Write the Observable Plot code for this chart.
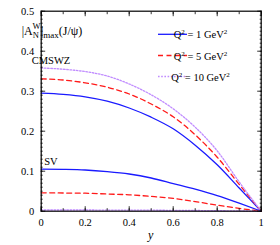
<!DOCTYPE html>
<html>
<head>
<meta charset="utf-8">
<script src="https://cdn.jsdelivr.net/npm/d3@7"></script>
<script src="https://cdn.jsdelivr.net/npm/@observablehq/plot@0.6"></script>
<style>
html,body{margin:0;padding:0;background:#fff;}
svg{display:block;}
</style>
</head>
<body>
<div id="chart"></div>
<script>
const yVals = [0, 0.1, 0.2, 0.3, 0.4, 0.5, 0.6, 0.7, 0.8, 0.9, 1.0];
const cmswzQ1  = [0.295, 0.292, 0.286, 0.275, 0.258, 0.235, 0.206, 0.165, 0.116, 0.058, 0];
const cmswzQ5  = [0.331, 0.328, 0.321, 0.310, 0.293, 0.268, 0.236, 0.191, 0.135, 0.067, 0];
const cmswzQ10 = [0.358, 0.355, 0.349, 0.338, 0.318, 0.291, 0.256, 0.210, 0.151, 0.073, 0];
const svQ1  = [0.105, 0.1045, 0.103, 0.099, 0.093, 0.083, 0.069, 0.055, 0.039, 0.020, 0];
const svQ5  = [0.046, 0.0455, 0.045, 0.043, 0.041, 0.037, 0.032, 0.024, 0.015, 0.007, 0];
const svQ10 = [0.003, 0.003, 0.003, 0.0028, 0.0027, 0.0025, 0.0022, 0.0018, 0.0013, 0.0007, 0];
const xTicks = [0, 0.2, 0.4, 0.6, 0.8, 1];
const yTicks = [0, 0.1, 0.2, 0.3, 0.4, 0.5];
const seriesNames = ["Q1", "Q5", "Q10"];
const legendLabels = ["1", "5", "10"];

const colors = {Q1: "#1a1aff", Q5: "#ff1a1a", Q10: "#c08cff"};
const dashes = {Q1: null, Q5: "5,3.5", Q10: "1.6,1.6"};

const rows = [];
const add = (model, q, arr) => arr.forEach((v, i) => rows.push({model, q, y: yVals[i], v}));
add("CMSWZ", "Q1", cmswzQ1); add("CMSWZ", "Q5", cmswzQ5); add("CMSWZ", "Q10", cmswzQ10);
add("SV", "Q1", svQ1); add("SV", "Q5", svQ5); add("SV", "Q10", svQ10);

const font = "'Liberation Serif', 'Times New Roman', serif";
const minorY = d3.range(0, 0.5001, 0.01).map(d => +d.toFixed(2));
const minorX = d3.range(0, 1.0001, 0.1).map(d => +d.toFixed(1));

const lineMarks = [];
for (const model of ["CMSWZ", "SV"]) {
  for (const q of seriesNames) {
    lineMarks.push(Plot.line(rows.filter(r => r.model === model && r.q === q), {
      x: "y", y: "v", stroke: colors[q], strokeWidth: 1.3,
      strokeDasharray: dashes[q], curve: "monotone-x"
    }));
  }
}

const ax = {label: null, strokeWidth: 0.8};
const svg = Plot.plot({
  width: 280, height: 245,
  marginLeft: 40.7, marginRight: 19.3, marginTop: 10.7, marginBottom: 34.3,
  style: {fontFamily: font, fontSize: "10px", background: "#fff", color: "#000"},
  x: {domain: [0, 1], label: null},
  y: {domain: [0, 0.5], label: null},
  marks: [
    ...lineMarks,
    Plot.axisY(minorY, {...ax, anchor: "left", tickSize: -2, text: null}),
    Plot.axisY(minorY, {...ax, anchor: "right", tickSize: -2, text: null}),
    Plot.axisY(yTicks, {...ax, anchor: "left", tickSize: -4.5, tickPadding: 11.5, fontSize: 10.5, tickFormat: d => d === 0 ? "0" : String(d)}),
    Plot.axisY(yTicks, {...ax, anchor: "right", tickSize: -4.5, text: null}),
    Plot.axisX(minorX, {...ax, anchor: "bottom", tickSize: -2.5, text: null}),
    Plot.axisX(minorX, {...ax, anchor: "top", tickSize: -2.5, text: null}),
    Plot.axisX(xTicks, {...ax, anchor: "bottom", tickSize: -4.5, tickPadding: 12, fontSize: 10.5, tickFormat: d => String(d)}),
    Plot.axisX(xTicks, {...ax, anchor: "top", tickSize: -4.5, text: null}),
    Plot.frame({stroke: "#000", strokeWidth: 1.2})
  ]
});
document.getElementById("chart").appendChild(svg);

const s = d3.select(svg);
const g = s.append("g").attr("fill", "#000");

// axis label
g.append("text").attr("x", 150.7).attr("y", 238.5).attr("text-anchor", "middle")
  .attr("font-size", 12).attr("font-style", "italic").text("y");

// title |A_N^W|_max(J/ψ)
const t = g.append("text").attr("x", 52).attr("y", 34.5).attr("font-size", 12);
t.append("tspan").text("|A");
t.append("tspan").attr("font-size", 8.5).attr("dy", 3).text("N");
t.append("tspan").attr("font-size", 8.5).attr("dx", -6.5).attr("dy", -9).text("W");
t.append("tspan").attr("dx", 0.5).attr("dy", 6).text("|");
t.append("tspan").attr("font-size", 9).attr("dy", 3).text("max");
t.append("tspan").attr("dy", -3).text("(J/ψ)");

g.append("text").attr("x", 51).attr("y", 63.5).attr("font-size", 10.5).text("CMSWZ");
g.append("text").attr("x", 51).attr("y", 165).attr("font-size", 10.5).text("SV");

// legend
const legY = [34.3, 55.5, 76.5];
seriesNames.forEach((q, i) => {
  g.append("line").attr("x1", 158).attr("x2", 187).attr("y1", legY[i]).attr("y2", legY[i])
    .attr("stroke", colors[q]).attr("stroke-width", 1.3)
    .attr("stroke-dasharray", dashes[q]);
  const lt = g.append("text").attr("x", 200.5).attr("y", legY[i] + 4).attr("font-size", 10.5);
  lt.append("tspan").text("Q");
  lt.append("tspan").attr("font-size", 7).attr("dy", -4).text("2");
  lt.append("tspan").attr("dy", 4).text(" = " + legendLabels[i] + " GeV");
  lt.append("tspan").attr("font-size", 7).attr("dy", -4).text("2");
});

s.selectAll("text").style("font-family", font);
</script>
</body>
</html>
